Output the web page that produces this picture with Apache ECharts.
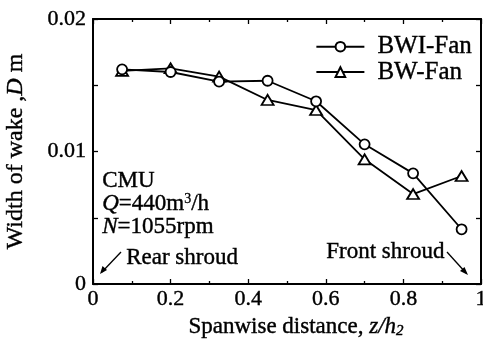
<!DOCTYPE html>
<html>
<head>
<meta charset="utf-8">
<script src="https://cdn.jsdelivr.net/npm/echarts@6/dist/echarts.min.js"></script>
<style>
  html, body { margin: 0; padding: 0; background: #fff; }
  #chart { width: 483px; height: 341px; }
</style>
</head>
<body>
<div id="chart"></div>
<script>
// Spanwise positions (z/h2) of the measuring stations
const spanwise = [0.075, 0.2, 0.325, 0.45, 0.575, 0.7, 0.825, 0.95];
// Wake width D (m) for each fan
const bwiFan = [0.0162, 0.0160, 0.01527, 0.01534, 0.01379, 0.01054, 0.00835, 0.00413];
const bwFan  = [0.01608, 0.01628, 0.01565, 0.01389, 0.01313, 0.00941, 0.00679, 0.00815];
const yTickLabels = { 0: '0', 0.01: '0.01', 0.02: '0.02' };

const FONT = '"Liberation Serif", "Times New Roman", serif';
// light outline to give the serif text a heavier, print-like weight
const INK = { color: '#000', textBorderColor: '#000', textBorderWidth: 0.4 };
const chart = echarts.init(document.getElementById('chart'), null, { renderer: 'canvas' });

const pairs = arr => spanwise.map((x, i) => [x, arr[i]]);

const axisCommon = {
  axisLine: { show: true, onZero: false, lineStyle: { color: '#000', width: 2 } },
  axisTick: { show: true, inside: true, length: 5, lineStyle: { color: '#000', width: 1.3 } },
  splitLine: { show: false }
};

chart.setOption({
  animation: false,
  backgroundColor: '#fff',
  textStyle: { fontFamily: FONT, color: '#000' },
  grid: { left: 93, right: 2, top: 19, bottom: 57, containLabel: false, outerBoundsMode: 'none' },
  legend: {
    orient: 'vertical',
    right: 6,
    top: 29,
    itemWidth: 48,
    itemHeight: 12,
    itemGap: 0,
    textStyle: Object.assign({ fontFamily: FONT, fontSize: 25, lineHeight: 24, padding: [0, 0, 0, 8] }, INK),
    data: ['BWI-Fan', 'BW-Fan']
  },
  xAxis: [
    Object.assign({}, axisCommon, {
      type: 'value', min: 0, max: 1, interval: 0.2,
      minorTick: { show: true, splitNumber: 2, length: 3, lineStyle: { color: '#000', width: 1.3 } },
      axisLabel: Object.assign({ fontFamily: FONT, fontSize: 22, margin: 4,
        formatter: v => (v === 0 || v === 1) ? String(v) : v.toFixed(1) }, INK),
      name: '{t|Spanwise distance, }{i|z/h}{s|2}',
      nameLocation: 'middle',
      nameGap: 28,
      nameTextStyle: {
        padding: [0, 0, 0, 18],
        rich: {
          t: Object.assign({ fontFamily: FONT, fontSize: 23 }, INK),
          i: Object.assign({ fontFamily: FONT, fontSize: 23, fontStyle: 'italic' }, INK),
          s: Object.assign({ fontFamily: FONT, fontSize: 15, fontStyle: 'italic', verticalAlign: 'bottom', padding: [9, 0, 0, 0] }, INK)
        }
      }
    }),
    Object.assign({}, axisCommon, {
      type: 'value', min: 0, max: 1, interval: 0.2, position: 'top',
      minorTick: { show: true, splitNumber: 2, length: 3, lineStyle: { color: '#000', width: 1.3 } },
      axisLabel: { show: false }
    })
  ],
  yAxis: [
    Object.assign({}, axisCommon, {
      type: 'value', min: 0, max: 0.02, interval: 0.005,
      axisLabel: Object.assign({ fontFamily: FONT, fontSize: 22, margin: 7,
        formatter: v => yTickLabels[Math.round(v * 1000) / 1000] || '' }, INK),
      name: '{t|Width of wake ,}{i|D}{t| m}',
      nameLocation: 'middle',
      nameGap: 65,
      nameTextStyle: {
        rich: {
          t: Object.assign({ fontFamily: FONT, fontSize: 24 }, INK),
          i: Object.assign({ fontFamily: FONT, fontSize: 24, fontStyle: 'italic' }, INK)
        }
      }
    }),
    Object.assign({}, axisCommon, {
      type: 'value', min: 0, max: 0.02, interval: 0.005, position: 'right',
      axisLabel: { show: false }
    })
  ],
  series: [
    {
      name: 'BWI-Fan', type: 'line', data: pairs(bwiFan),
      symbol: 'circle', symbolSize: 10,
      lineStyle: { color: '#000', width: 1.8 },
      itemStyle: { color: '#fff', borderColor: '#000', borderWidth: 1.8 },
      z: 3
    },
    {
      name: 'BW-Fan', type: 'line', data: pairs(bwFan),
      symbol: 'triangle', symbolSize: [12, 10],
      lineStyle: { color: '#000', width: 1.8 },
      itemStyle: { color: '#fff', borderColor: '#000', borderWidth: 1.8 },
      z: 2
    }
  ],
  graphic: [
    {
      type: 'text', left: 102, top: 169,
      style: {
        text: 'CMU\n{i|Q}=440m{sup|3}/h\n{i|N}=1055rpm',
        fontFamily: FONT, fontSize: 23, fill: '#000', stroke: '#000', lineWidth: 0.4, lineHeight: 23,
        rich: {
          i: { fontFamily: FONT, fontSize: 23, fontStyle: 'italic', fill: '#000', stroke: '#000', lineWidth: 0.4 },
          sup: { fontFamily: FONT, fontSize: 14, fill: '#000', stroke: '#000', lineWidth: 0.3, verticalAlign: 'top', padding: [0, 0, 9, 0] }
        }
      }
    },
    {
      type: 'text', left: 126, top: 246,
      style: { text: 'Rear shroud', fontFamily: FONT, fontSize: 23, fill: '#000', stroke: '#000', lineWidth: 0.4 }
    },
    {
      type: 'text', left: 326, top: 240,
      style: { text: 'Front shroud', fontFamily: FONT, fontSize: 23, fill: '#000', stroke: '#000', lineWidth: 0.4 }
    },
    // arrow toward the rear shroud
    { type: 'line', shape: { x1: 121, y1: 252, x2: 102, y2: 272 }, style: { stroke: '#000', lineWidth: 1.3 } },
    { type: 'polygon', shape: { points: [[100, 274], [102.5, 266], [107, 270]] }, style: { fill: '#000' } },
    // arrow toward the front shroud
    { type: 'line', shape: { x1: 447, y1: 252, x2: 466, y2: 273 }, style: { stroke: '#000', lineWidth: 1.3 } },
    { type: 'polygon', shape: { points: [[468, 275], [460, 271], [464.5, 267]] }, style: { fill: '#000' } }
  ]
});
</script>
</body>
</html>
